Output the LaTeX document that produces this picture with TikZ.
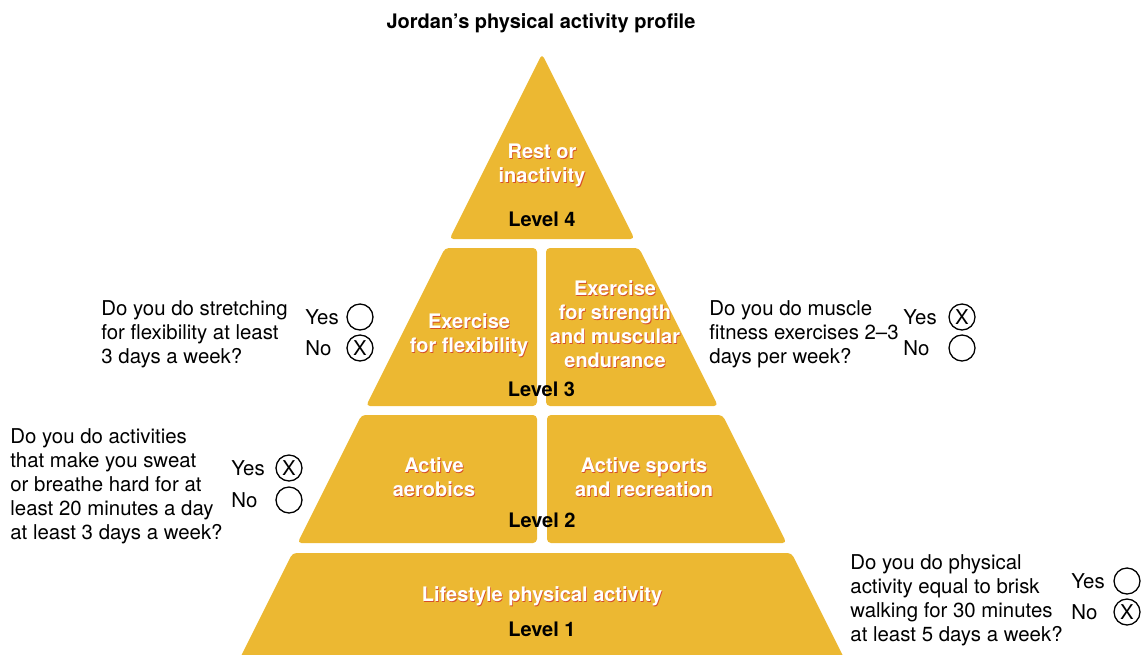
\documentclass[tikz,border=0pt]{standalone}
\usepackage{fontspec}
\setmainfont{TeX Gyre Heros}
\usetikzlibrary{calc}
\definecolor{pyr}{RGB}{236,184,50}
\definecolor{shad}{RGB}{214,78,40}
\newcommand\shlabel[3]{\node[shd] at ($(#2)+(0.8,1.8)$) {#3};\node[wht] (#1) at (#2) {#3};}
\begin{document}
\begin{tikzpicture}[x=0.5pt,y=-0.5pt,
  every node/.style={inner sep=0pt, font=\fontsize{10.2}{12}\selectfont},
  blk/.style={fill=pyr, rounded corners=2pt},
  wht/.style={text=white, font=\fontsize{10}{12}\selectfont\bfseries, align=center, anchor=base},
  shd/.style={text=shad, font=\fontsize{10}{12}\selectfont\bfseries, align=center, anchor=base},
  lvl/.style={font=\fontsize{10}{12}\selectfont\bfseries, anchor=base},
  qtext/.style={align=left, anchor=base west},
  opt/.style={anchor=base west},
  tick/.style={circle, draw, line width=0.65pt, minimum size=13pt}]
\useasboundingbox (0,0) rectangle (1143,654);
\begin{scope}
\clip (0,0) rectangle (1143,654);
% pyramid
\path[blk] (542,54) -- (634.5,239) -- (449.5,239) -- cycle;
\path[blk] (445,248) -- (537,248) -- (537,406) -- (366,406) -- cycle;
\path[blk] (546,248) -- (639,248) -- (718,406) -- (546,406) -- cycle;
\path[blk] (361.5,415) -- (537,415) -- (537,543) -- (297.5,543) -- cycle;
\path[blk] (547,415) -- (722.5,415) -- (786.5,543) -- (547,543) -- cycle;
\path[blk] (292.5,553) -- (791.5,553) -- (850,670) -- (234,670) -- cycle;
\end{scope}
% title
\node[lvl] (title) at (541,28) {Jordan’s physical activity profile};
% pyramid labels (anchor = baseline of last line)
\shlabel{l4t}{542,182}{Rest or\\inactivity}
\node[lvl] (l4) at (542,226) {Level 4};
\shlabel{l3a}{469,352}{Exercise\\for flexibility}
\shlabel{l3b}{615,367}{Exercise\\for strength\\and muscular\\endurance}
\node[lvl] (l3) at (541.5,396) {Level 3};
\shlabel{l2a}{434,496}{Active\\aerobics}
\shlabel{l2b}{644,496}{Active sports\\and recreation}
\node[lvl] (l2) at (542,527) {Level 2};
\shlabel{l1t}{542,601}{Lifestyle physical activity}
\node[lvl] (l1) at (542,636) {Level 1};
% question 1
\node[qtext] (q1) at (101,363) {Do you do stretching\\for flexibility at least\\3 days a week?};
\node[opt] (q1y) at (305,324) {Yes};
\node[tick] (q1yc) at (360,317) {};
\node[opt] (q1n) at (305,355) {No};
\node[tick] (q1nc) at (360,348) {X};
% question 2
\node[qtext] (q2) at (10,539) {Do you do activities\\that make you sweat\\or breathe hard for at\\least 20 minutes a day\\at least 3 days a week?};
\node[opt] (q2y) at (231,475) {Yes};
\node[tick] (q2yc) at (289,468) {X};
\node[opt] (q2n) at (231,507) {No};
\node[tick] (q2nc) at (289,500) {};
% question 3
\node[qtext] (q3) at (709,363) {Do you do muscle\\fitness exercises 2–3\\days per week?};
\node[opt] (q3y) at (903,324) {Yes};
\node[tick] (q3yc) at (962,317) {X};
\node[opt] (q3n) at (903,355) {No};
\node[tick] (q3nc) at (962,348) {};
% question 4
\node[qtext] (q4) at (850,641) {Do you do physical\\activity equal to brisk\\walking for 30 minutes\\at least 5 days a week?};
\node[opt] (q4y) at (1071,588) {Yes};
\node[tick] (q4yc) at (1127,581) {};
\node[opt] (q4n) at (1071,619) {No};
\node[tick] (q4nc) at (1127,612) {X};
\end{tikzpicture}
\end{document}
